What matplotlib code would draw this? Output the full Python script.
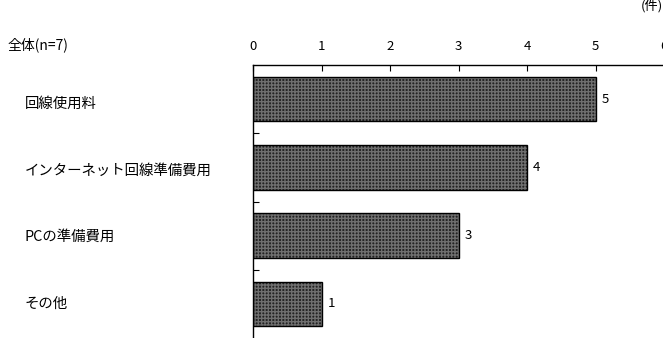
import matplotlib.pyplot as plt

plt.rcParams['font.family'] = ['Noto Sans CJK JP', 'DejaVu Sans']

categories = ['回線使用料', 'インターネット回線準備費用', 'PCの準備費用', 'その他']
counts = [5, 4, 3, 1]
xticks = [0, 1, 2, 3, 4, 5, 6]

fig = plt.figure(figsize=(6.63, 3.38), dpi=100)
ax = fig.add_axes([253 / 663, 0.0, (664 - 253) / 663, (338 - 65) / 338])

ypos = list(range(len(categories)))
# 網掛け風の塗り
ax.barh(ypos, counts, height=0.65, color='#222222', edgecolor='#6e6e6e',
        hatch='+++++', linewidth=0)
ax.barh(ypos, counts, height=0.65, fill=False, edgecolor='black', linewidth=1.0)

for y, v in zip(ypos, counts):
    ax.text(v + 0.09, y, str(v), va='center', ha='left', fontsize=9.5)

ax.set_xlim(0, 6)
ax.set_ylim(len(categories) - 0.5, -0.5)
ax.xaxis.tick_top()
ax.set_xticks(xticks)
ax.set_xticklabels([str(t) for t in xticks], fontsize=9.5)
ax.tick_params(axis='x', direction='in', length=4, pad=9, width=0.8)
ax.set_yticks([i + 0.5 for i in range(len(categories) - 1)])
ax.set_yticklabels([])
ax.tick_params(axis='y', direction='in', length=4, width=0.8)

ax.spines['right'].set_visible(False)
ax.spines['bottom'].set_visible(False)
ax.spines['top'].set_linewidth(1.0)
ax.spines['left'].set_linewidth(1.0)

for y, c in zip(ypos, categories):
    py = 104 + y * 66.5
    fig.text(25 / 663, 1 - py / 338, c, ha='left', va='center', fontsize=10.4)

fig.text(8 / 663, 1 - 45 / 338, '全体(n=7)', ha='left', va='center', fontsize=10)
fig.text(1.0, 1 - 6 / 338, '(件)', ha='right', va='center', fontsize=9.5)

fig.savefig('out.png', dpi=100)
